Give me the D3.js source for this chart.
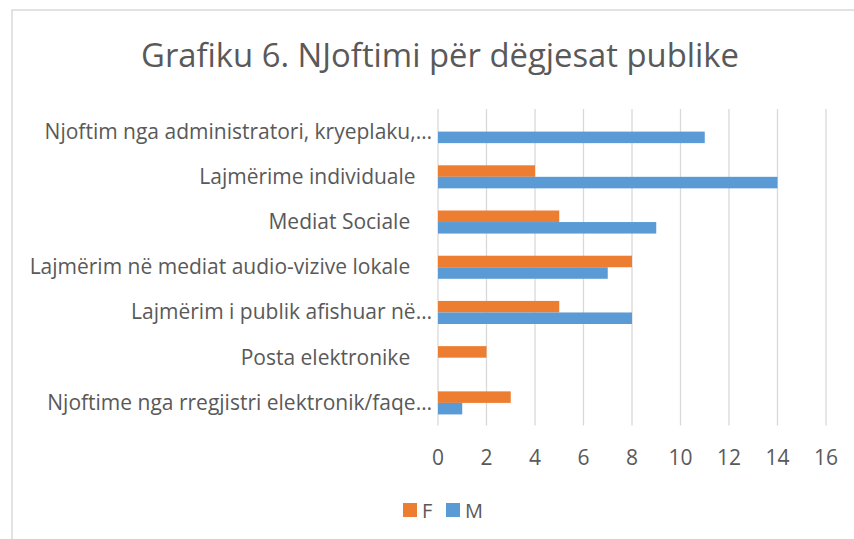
<!DOCTYPE html>
<html lang="sq">
<head>
<meta charset="utf-8">
<title>Grafiku 6</title>
<script src="https://cdn.jsdelivr.net/npm/d3@7"></script>
<style>
	body { margin: 0; background: #fff; }
	text { font-family: "Open Sans", Lato, sans-serif; fill: #595959; white-space: pre; }
</style>
</head>
<body>
<script>
	// chart data
	var categories = [
		"Njoftim nga administratori, kryeplaku,\u2026",
		"Lajm\u00ebrime individuale   ",
		"Mediat Sociale    ",
		"Lajm\u00ebrim n\u00eb mediat audio-vizive lokale    ",
		"Lajm\u00ebrim i publik afishuar n\u00eb\u2026",
		"Posta elektronike    ",
		"Njoftime nga rregjistri elektronik/faqe\u2026"
	]
	var valuesF = [0, 4, 5, 8, 5, 2, 3]
	var valuesM = [11, 14, 9, 7, 8, 0, 1]
	var series = ["F", "M"]
	var colors = {F: "#ED7D31", M: "#5B9BD5"}
	var ticks = [0, 2, 4, 6, 8, 10, 12, 14, 16]

	var w = 854, h = 539

	var svg = d3.select("body").append("svg").attr("width", w).attr("height", h)

	// frame
	svg.append("rect")
		.attr("x", 12).attr("y", 10)
		.attr("width", w).attr("height", h)
		.attr("fill", "#fff")
		.attr("stroke", "#d9d9d9")
		.attr("stroke-width", 1.5)

	svg.append("text")
		.attr("x", 440).attr("y", 67)
		.attr("text-anchor", "middle")
		.attr("font-size", "32.8px")
		.text("Grafiku 6. NJoftimi p\u00ebr d\u00ebgjesat publike")

	var xscale = d3.scaleLinear().domain([0, 16]).range([438, 826])

	var yscale = d3.scaleBand()
		.domain(categories)
		.range([109, 425.5])
		.paddingInner(0.49)
		.paddingOuter(0.245)

	var inner = d3.scaleBand().domain(series).range([0, yscale.bandwidth()])

	// gridlines
	svg.selectAll(".grid")
		.data(ticks)
		.enter()
		.append("line")
		.attr("class", "grid")
		.attr("x1", function(d) { return xscale(d) })
		.attr("x2", function(d) { return xscale(d) })
		.attr("y1", 109)
		.attr("y2", 425.5)
		.attr("stroke", "#d9d9d9")
		.attr("stroke-width", 1.3)

	var rows = categories.map(function(c, i) { return {cat: c, F: valuesF[i], M: valuesM[i]} })

	series.forEach(function(s) {
		svg.selectAll(".bar" + s)
			.data(rows)
			.enter()
			.append("rect")
			.attr("class", "bar" + s)
			.attr("x", xscale(0))
			.attr("y", function(d) { return yscale(d.cat) + inner(s) })
			.attr("width", function(d) { return xscale(d[s]) - xscale(0) })
			.attr("height", inner.bandwidth())
			.attr("fill", colors[s])
	})

	// category labels
	svg.selectAll(".cat")
		.data(categories)
		.enter()
		.append("text")
		.attr("class", "cat")
		.attr("x", 432)
		.attr("y", function(d) { return yscale(d) + yscale.bandwidth() / 2 + 7 })
		.attr("text-anchor", "end")
		.attr("font-size", "21px")
		.text(function(d) { return d })

	// x tick labels
	svg.selectAll(".tick")
		.data(ticks)
		.enter()
		.append("text")
		.attr("class", "tick")
		.attr("x", function(d) { return xscale(d) })
		.attr("y", 465)
		.attr("text-anchor", "middle")
		.attr("font-size", "21px")
		.text(function(d) { return d })

	// legend
	var legend = svg.selectAll(".leg")
		.data(series)
		.enter()
		.append("g")
		.attr("class", "leg")
		.attr("transform", function(d, i) { return "translate(" + (403 + i * 43) + ",503)" })

	legend.append("rect")
		.attr("width", 14).attr("height", 14)
		.attr("fill", function(d) { return colors[d] })

	legend.append("text")
		.attr("x", 19).attr("y", 14.5)
		.attr("font-size", "20px")
		.text(function(d) { return d })
</script>
</body>
</html>
